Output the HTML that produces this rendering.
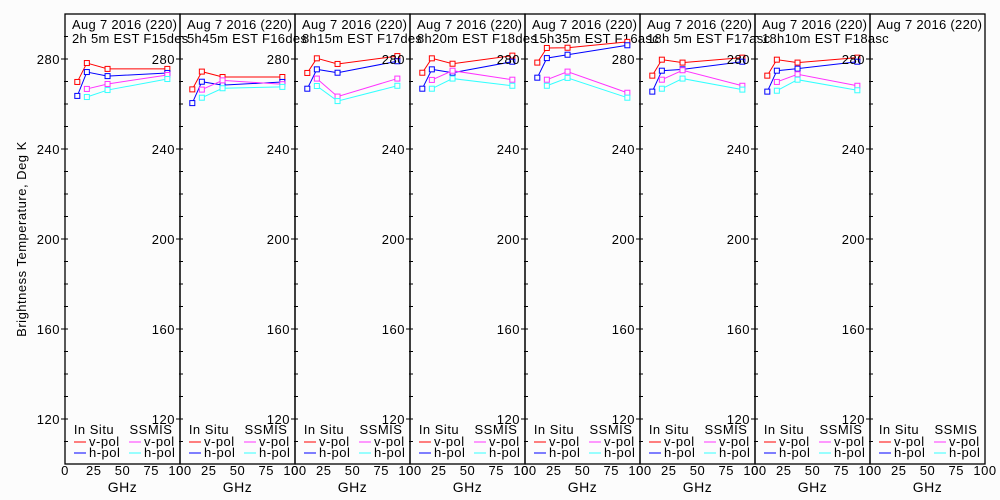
<!DOCTYPE html>
<html><head><meta charset="utf-8"><style>
body{margin:0;background:#fcfcfc;}
svg{display:block;font-family:"Liberation Sans",sans-serif;}
</style></head><body>
<svg id="c" width="1000" height="500"></svg>
<script>
const titles1=["Aug 7 2016 (220)","Aug 7 2016 (220)","Aug 7 2016 (220)","Aug 7 2016 (220)","Aug 7 2016 (220)","Aug 7 2016 (220)","Aug 7 2016 (220)","Aug 7 2016 (220)"];
const titles2=["2h 5m EST F15des","5h45m EST F16des","8h15m EST F17des","8h20m EST F18des","15h35m EST F16asc","18h 5m EST F17asc","18h10m EST F18asc",""];
const inSituFreq=[10.7,19,37,89];
const ssmisFreq=[19,37,89];
const yTicks=[120,160,200,240,280];
const xTicks=[0,25,50,75,100];
const insituV=[[269.8,278.2,275.6,275.6],[266.5,274.4,272,272],[273.8,280.3,277.8,281.3],[273.9,280.3,277.9,281.5],[278.4,284.9,285,287.6],[272.6,279.7,278.4,280.6],[272.6,279.7,278.4,280.6],[]];
const insituH=[[263.6,274.2,272.4,273.8],[260.4,269.9,268.4,269.8],[266.8,275.4,273.9,279],[266.8,275.4,273.9,278.8],[271.7,280.4,281.9,286.1],[265.5,274.8,275.4,278.8],[265.5,274.8,275.7,278.8],[]];
const ssmisV=[[266.7,268.9,272.9],[266.4,270.5,268.8],[271.3,263.3,271.3],[270.7,274.8,270.8],[270.8,274.4,265],[270.8,275,268.1],[269.8,273.2,268.1],[]];
const ssmisH=[[263.1,266.2,271.1],[262.8,267,267.6],[268,261.3,268.1],[266.8,271.3,268.1],[268.1,271.6,262.8],[266.8,271.3,266.4],[265.9,270.8,266.1],[]];

const NS="http://www.w3.org/2000/svg";
const svg=document.getElementById('c');
function mk(t,a,p){const e=document.createElementNS(NS,t);for(const k in a)e.setAttribute(k,a[k]);(p||svg).appendChild(e);return e;}
const top0=14,bot=464,pw=115,x00=65;
const yS=v=>top0+(300-v)*(bot-top0)/200;
function txt(x,y,s,anchor,p,size,ls){const t=mk('text',{x:x,y:y,'font-size':size||13,'text-anchor':anchor||'start',fill:'#000','letter-spacing':ls||0},p);t.textContent=s;return t;}
const yt=txt(0,0,"Brightness Temperature, Deg K","middle",svg,13,0.5);
yt.setAttribute('transform','translate(26,239) rotate(-90)');


const cols={iv:'#ff0000',ih:'#0000ff',sv:'#ff33ff',sh:'#33ffff'};
for(let p=0;p<8;p++){
  const L=x00+p*pw, xS=f=>L+f*pw/100;
  const g=mk('g',{});
  
  
  mk('rect',{x:L,y:top0,width:pw,height:bot-top0,fill:'none',stroke:'#000','stroke-width':1.3},g);
  for(let v=110;v<=290;v+=10){const y=yS(v);mk('line',{x1:L-(yTicks.includes(v)?4:1),x2:L+3,y1:y,y2:y,stroke:'#000'},g);}
  yTicks.forEach(v=>txt(L-5,yS(v)+5,String(v),'end',g,13,0.5));
  xTicks.forEach(v=>txt(xS(v),475,String(v),'middle',g,13,0.5));
  txt(L+pw/2,492,"GHz",'middle',g,14,0.5);
  txt(L+7,29,titles1[p],'start',g,13,0.3);
  txt(L+7,43,titles2[p],'start',g,13,0.3);
  txt(L+29,434,"In Situ",'middle',g,13,0.5);
  txt(L+86,434,"SSMIS",'middle',g,13,0.5);
  [['iv',446,'v-pol',9],['ih',457,'h-pol',9],['sv',446,'v-pol',64],['sh',457,'h-pol',64]].forEach(d=>{
    mk('line',{x1:L+d[3],x2:L+d[3]+12,y1:d[1]-4,y2:d[1]-4,stroke:cols[d[0]]},g);
    txt(L+d[3]+15,d[1],d[2],'start',g,13,0.5);
  });
  const series=[['iv',inSituFreq,insituV[p]],['ih',inSituFreq,insituH[p]],['sv',ssmisFreq,ssmisV[p]],['sh',ssmisFreq,ssmisH[p]]];
  series.forEach(s=>{
    if(!s[2].length)return;
    const pts=s[2].map((v,i)=>xS(s[1][i])+','+yS(v)).join(' ');
    const pl=mk('polyline',{points:pts,fill:'none',stroke:cols[s[0]],'stroke-width':1},g);
    
    
    s[2].forEach((v,i)=>{
      const r=mk('rect',{x:xS(s[1][i])-2.5,y:yS(v)-2.5,width:5,height:5,fill:'#fcfcfc',stroke:cols[s[0]],'stroke-width':1},g);
      
      
    });
  });
}
</script>
</body></html>
